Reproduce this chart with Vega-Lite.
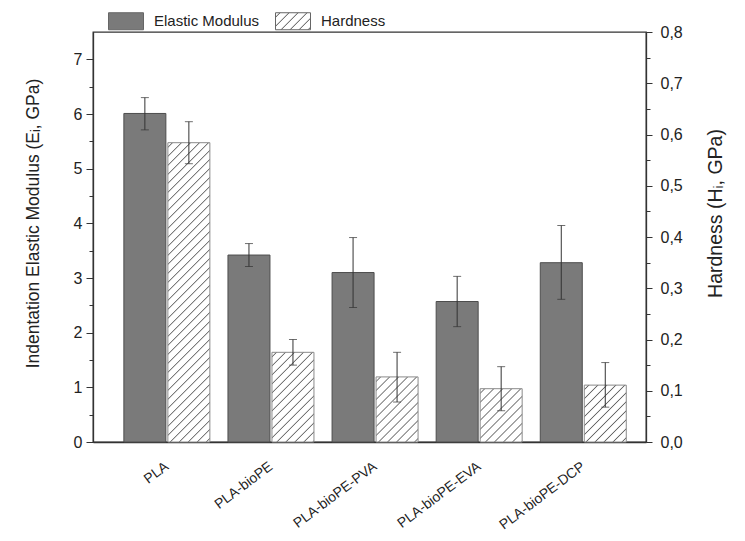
{
  "$schema": "https://vega.github.io/schema/vega-lite/v6.json",
  "width": 553,
  "height": 410,
  "autosize": {"type": "none"},
  "padding": {"left": 93, "top": 32, "right": 99, "bottom": 99},
  "background": "white",
  "config": {
    "view": {"stroke": "#333333", "strokeWidth": 1.3},
    "font": "Liberation Sans",
    "axis": {"domainColor": "#333333", "tickColor": "#333333", "labelColor": "#222222", "titleColor": "#222222", "labelFont": "Liberation Sans", "titleFont": "Liberation Sans", "titleFontWeight": "normal", "grid": false}
  },
  "params": [
    {"name": "hatch", "value": [
      {"offset": 0, "color": "#fff"},
      {"offset": 0.0085, "color": "#fff"}, {"offset": 0.0115, "color": "#666"}, {"offset": 0.0145, "color": "#fff"},
      {"offset": 0.031, "color": "#fff"}, {"offset": 0.034, "color": "#666"}, {"offset": 0.037, "color": "#fff"},
      {"offset": 0.0535, "color": "#fff"}, {"offset": 0.0565, "color": "#666"}, {"offset": 0.0595, "color": "#fff"},
      {"offset": 0.076, "color": "#fff"}, {"offset": 0.079, "color": "#666"}, {"offset": 0.082, "color": "#fff"},
      {"offset": 0.0985, "color": "#fff"}, {"offset": 0.1015, "color": "#666"}, {"offset": 0.1045, "color": "#fff"},
      {"offset": 0.121, "color": "#fff"}, {"offset": 0.124, "color": "#666"}, {"offset": 0.127, "color": "#fff"},
      {"offset": 0.1435, "color": "#fff"}, {"offset": 0.1465, "color": "#666"}, {"offset": 0.1495, "color": "#fff"},
      {"offset": 0.166, "color": "#fff"}, {"offset": 0.169, "color": "#666"}, {"offset": 0.172, "color": "#fff"},
      {"offset": 0.1885, "color": "#fff"}, {"offset": 0.1915, "color": "#666"}, {"offset": 0.1945, "color": "#fff"},
      {"offset": 0.211, "color": "#fff"}, {"offset": 0.214, "color": "#666"}, {"offset": 0.217, "color": "#fff"},
      {"offset": 0.2335, "color": "#fff"}, {"offset": 0.2365, "color": "#666"}, {"offset": 0.2395, "color": "#fff"},
      {"offset": 0.256, "color": "#fff"}, {"offset": 0.259, "color": "#666"}, {"offset": 0.262, "color": "#fff"},
      {"offset": 0.2785, "color": "#fff"}, {"offset": 0.2815, "color": "#666"}, {"offset": 0.2845, "color": "#fff"},
      {"offset": 0.301, "color": "#fff"}, {"offset": 0.304, "color": "#666"}, {"offset": 0.307, "color": "#fff"},
      {"offset": 0.3235, "color": "#fff"}, {"offset": 0.3265, "color": "#666"}, {"offset": 0.3295, "color": "#fff"},
      {"offset": 0.346, "color": "#fff"}, {"offset": 0.349, "color": "#666"}, {"offset": 0.352, "color": "#fff"},
      {"offset": 0.3685, "color": "#fff"}, {"offset": 0.3715, "color": "#666"}, {"offset": 0.3745, "color": "#fff"},
      {"offset": 0.391, "color": "#fff"}, {"offset": 0.394, "color": "#666"}, {"offset": 0.397, "color": "#fff"},
      {"offset": 0.4135, "color": "#fff"}, {"offset": 0.4165, "color": "#666"}, {"offset": 0.4195, "color": "#fff"},
      {"offset": 0.436, "color": "#fff"}, {"offset": 0.439, "color": "#666"}, {"offset": 0.442, "color": "#fff"},
      {"offset": 0.4585, "color": "#fff"}, {"offset": 0.4615, "color": "#666"}, {"offset": 0.4645, "color": "#fff"},
      {"offset": 0.481, "color": "#fff"}, {"offset": 0.484, "color": "#666"}, {"offset": 0.487, "color": "#fff"},
      {"offset": 0.5035, "color": "#fff"}, {"offset": 0.5065, "color": "#666"}, {"offset": 0.5095, "color": "#fff"},
      {"offset": 0.526, "color": "#fff"}, {"offset": 0.529, "color": "#666"}, {"offset": 0.532, "color": "#fff"},
      {"offset": 0.5485, "color": "#fff"}, {"offset": 0.5515, "color": "#666"}, {"offset": 0.5545, "color": "#fff"},
      {"offset": 0.571, "color": "#fff"}, {"offset": 0.574, "color": "#666"}, {"offset": 0.577, "color": "#fff"},
      {"offset": 0.5935, "color": "#fff"}, {"offset": 0.5965, "color": "#666"}, {"offset": 0.5995, "color": "#fff"},
      {"offset": 0.616, "color": "#fff"}, {"offset": 0.619, "color": "#666"}, {"offset": 0.622, "color": "#fff"},
      {"offset": 0.6385, "color": "#fff"}, {"offset": 0.6415, "color": "#666"}, {"offset": 0.6445, "color": "#fff"},
      {"offset": 0.661, "color": "#fff"}, {"offset": 0.664, "color": "#666"}, {"offset": 0.667, "color": "#fff"},
      {"offset": 0.6835, "color": "#fff"}, {"offset": 0.6865, "color": "#666"}, {"offset": 0.6895, "color": "#fff"},
      {"offset": 0.706, "color": "#fff"}, {"offset": 0.709, "color": "#666"}, {"offset": 0.712, "color": "#fff"},
      {"offset": 0.7285, "color": "#fff"}, {"offset": 0.7315, "color": "#666"}, {"offset": 0.7345, "color": "#fff"},
      {"offset": 0.751, "color": "#fff"}, {"offset": 0.754, "color": "#666"}, {"offset": 0.757, "color": "#fff"},
      {"offset": 0.7735, "color": "#fff"}, {"offset": 0.7765, "color": "#666"}, {"offset": 0.7795, "color": "#fff"},
      {"offset": 0.796, "color": "#fff"}, {"offset": 0.799, "color": "#666"}, {"offset": 0.802, "color": "#fff"},
      {"offset": 0.8185, "color": "#fff"}, {"offset": 0.8215, "color": "#666"}, {"offset": 0.8245, "color": "#fff"},
      {"offset": 0.841, "color": "#fff"}, {"offset": 0.844, "color": "#666"}, {"offset": 0.847, "color": "#fff"},
      {"offset": 0.8635, "color": "#fff"}, {"offset": 0.8665, "color": "#666"}, {"offset": 0.8695, "color": "#fff"},
      {"offset": 0.886, "color": "#fff"}, {"offset": 0.889, "color": "#666"}, {"offset": 0.892, "color": "#fff"},
      {"offset": 1, "color": "#fff"}
    ]}
  ],
  "data": {"values": [
    {"sample": "PLA", "property": "Elastic Modulus", "value": 6.01, "lo": 5.71, "hi": 6.30},
    {"sample": "PLA", "property": "Hardness", "value": 0.584, "lo": 0.543, "hi": 0.625},
    {"sample": "PLA-bioPE", "property": "Elastic Modulus", "value": 3.42, "lo": 3.21, "hi": 3.63},
    {"sample": "PLA-bioPE", "property": "Hardness", "value": 0.175, "lo": 0.150, "hi": 0.200},
    {"sample": "PLA-bioPE-PVA", "property": "Elastic Modulus", "value": 3.10, "lo": 2.46, "hi": 3.74},
    {"sample": "PLA-bioPE-PVA", "property": "Hardness", "value": 0.127, "lo": 0.078, "hi": 0.175},
    {"sample": "PLA-bioPE-EVA", "property": "Elastic Modulus", "value": 2.57, "lo": 2.11, "hi": 3.03},
    {"sample": "PLA-bioPE-EVA", "property": "Hardness", "value": 0.104, "lo": 0.061, "hi": 0.147},
    {"sample": "PLA-bioPE-DCP", "property": "Elastic Modulus", "value": 3.28, "lo": 2.61, "hi": 3.96},
    {"sample": "PLA-bioPE-DCP", "property": "Hardness", "value": 0.111, "lo": 0.068, "hi": 0.155}
  ]},
  "encoding": {
    "x": {"field": "sample", "type": "nominal", "sort": null,
      "scale": {"paddingInner": 0.1739, "paddingOuter": 0.243, "align": 0.61},
      "axis": {"title": null, "ticks": false, "domain": true, "domainWidth": 1.5, "labelAngle": -37, "labelAlign": "right", "labelBaseline": "top", "labelFontSize": 14, "labelPadding": 17, "labelOffset": -4}},
    "xOffset": {"field": "property", "type": "nominal", "scale": {"domain": ["Elastic Modulus", "Hardness"], "paddingInner": 0.0455, "paddingOuter": 0}}
  },
  "layer": [
    {
      "transform": [{"filter": "datum.property === 'Elastic Modulus'"}],
      "layer": [
        {
          "mark": {"type": "bar", "stroke": "#4d4d4d", "strokeWidth": 1},
          "encoding": {
            "y": {"field": "value", "type": "quantitative", "scale": {"domain": [0, 7.5], "nice": false},
              "axis": {"orient": "left", "title": "Indentation Elastic Modulus (Eᵢ, GPa)", "titleFontSize": 17.5, "titlePadding": 31, "titleY": 191,
                "values": [0, 1, 2, 3, 4, 5, 6, 7], "tickSize": 7,
                "labelFontSize": 16, "labelPadding": 4, "domainWidth": 1.3}},
            "fill": {"field": "property", "type": "nominal",
              "scale": {"domain": ["Elastic Modulus", "Hardness"],
                "range": ["#7a7a7a", {"expr": "{gradient: 'linear', x1: 0, y1: 0, x2: 9.247, y2: 4.491, stops: hatch}"}]},
              "legend": {"orient": "none", "legendX": 15, "legendY": -29, "direction": "horizontal", "title": null,
                "padding": 0, "symbolType": "M-1,-0.486H1V0.486H-1Z", "symbolSize": 1225,
                "symbolStrokeColor": "#666666", "symbolStrokeWidth": 1, "labelFontSize": 15, "labelFont": "Liberation Sans",
                "labelColor": "#222222", "labelOffset": 10, "columnPadding": 13}}
          }
        },
        {
          "mark": {"type": "rule", "color": "#333333", "strokeWidth": 1},
          "encoding": {"y": {"field": "lo", "type": "quantitative",
            "axis": {"orient": "left", "title": null, "labels": false, "domain": false, "tickSize": 4,
              "values": [0.5, 1.5, 2.5, 3.5, 4.5, 5.5, 6.5]}},
            "y2": {"field": "hi"}}
        },
        {
          "mark": {"type": "tick", "color": "#333333", "thickness": 1, "size": 8},
          "encoding": {"y": {"field": "lo", "type": "quantitative", "axis": null}}
        },
        {
          "mark": {"type": "tick", "color": "#333333", "thickness": 1, "size": 8},
          "encoding": {"y": {"field": "hi", "type": "quantitative", "axis": null}}
        }
      ],
      "resolve": {"axis": {"y": "independent"}}
    },
    {
      "transform": [{"filter": "datum.property === 'Hardness'"}],
      "layer": [
        {
          "mark": {"type": "bar", "stroke": "#8a8a8a", "strokeWidth": 1},
          "encoding": {
            "y": {"field": "value", "type": "quantitative", "scale": {"domain": [0, 0.8], "nice": false},
              "axis": {"orient": "right", "title": "Hardness (Hᵢ, GPa)", "titleFontSize": 19.5, "titleAngle": 270, "titleBaseline": "top", "titlePadding": 24, "titleY": 181,
                "values": [0, 0.1, 0.2, 0.3, 0.4, 0.5, 0.6, 0.7, 0.8], "tickSize": 6,
                "labelExpr": "replace(format(datum.value, '.1f'), '.', ',')",
                "labelFontSize": 16, "labelPadding": 8, "domainWidth": 1.3}},
            "fill": {"value": {"expr": "{gradient: 'linear', x1: 0, y1: 0, x2: 400 * 42 / (1764 + pow(datum.value * 512.5, 2)), y2: 400 * datum.value * 512.5 / (1764 + pow(datum.value * 512.5, 2)), stops: hatch}"}}
          }
        },
        {
          "mark": {"type": "rule", "color": "#333333", "strokeWidth": 1},
          "encoding": {"y": {"field": "lo", "type": "quantitative",
            "axis": {"orient": "right", "title": null, "labels": false, "domain": false, "tickSize": 4,
              "values": [0.05, 0.15, 0.25, 0.35, 0.45, 0.55, 0.65, 0.75]}},
            "y2": {"field": "hi"}}
        },
        {
          "mark": {"type": "tick", "color": "#333333", "thickness": 1, "size": 8},
          "encoding": {"y": {"field": "lo", "type": "quantitative", "axis": null}}
        },
        {
          "mark": {"type": "tick", "color": "#333333", "thickness": 1, "size": 8},
          "encoding": {"y": {"field": "hi", "type": "quantitative", "axis": null}}
        }
      ],
      "resolve": {"axis": {"y": "independent"}}
    }
  ],
  "resolve": {"scale": {"y": "independent"}, "axis": {"y": "independent"}}
}
